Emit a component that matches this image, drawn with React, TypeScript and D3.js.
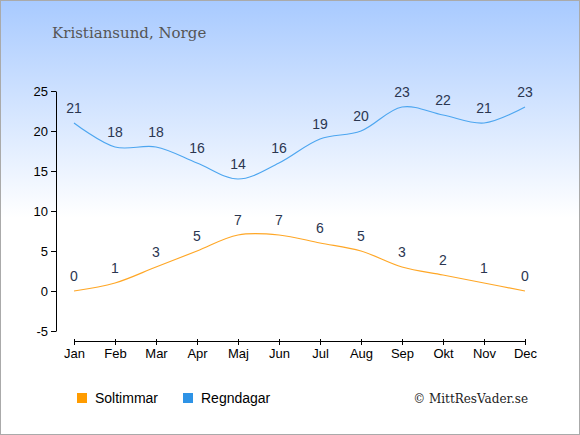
import React, { useRef, useEffect } from 'react';
import * as d3 from 'd3';

const months = ['Jan', 'Feb', 'Mar', 'Apr', 'Maj', 'Jun', 'Jul', 'Aug', 'Sep', 'Okt', 'Nov', 'Dec'];
const soltimmar = [0, 1, 3, 5, 7, 7, 6, 5, 3, 2, 1, 0];
const regndagar = [21, 18, 18, 16, 14, 16, 19, 20, 23, 22, 21, 23];
const yTicks = [-5, 0, 5, 10, 15, 20, 25];

const W = 580;
const H = 435;

const App: React.FC = () => {
  const svgRef = useRef<SVGSVGElement | null>(null);

  useEffect(() => {
    if (!svgRef.current) return;
    const svg = d3.select(svgRef.current);
    svg.selectAll('*').remove();

    // background gradient
    const grad = svg
      .append('defs')
      .append('linearGradient')
      .attr('id', 'bg')
      .attr('x1', 0)
      .attr('y1', 0)
      .attr('x2', 0)
      .attr('y2', 1);
    grad.append('stop').attr('offset', '0%').attr('stop-color', '#a8caff');
    grad.append('stop').attr('offset', '50%').attr('stop-color', '#ffffff');
    grad.append('stop').attr('offset', '100%').attr('stop-color', '#ffffff');

    svg
      .append('rect')
      .attr('x', 0.5)
      .attr('y', 0.5)
      .attr('width', W - 1)
      .attr('height', H - 1)
      .attr('fill', 'url(#bg)')
      .attr('stroke', '#aaaaaa');

    svg
      .append('text')
      .attr('x', 52)
      .attr('y', 38)
      .attr('font-family', 'DejaVu Serif, Georgia, serif')
      .attr('font-size', 15)
      .attr('fill', '#555555')
      .text('Kristiansund, Norge');

    const x = d3.scalePoint<string>().domain(months).range([74, 525]);
    const y = d3.scaleLinear().domain([-5, 25]).range([331, 91]);

    const font = 'Liberation Sans, Arial, sans-serif';

    // Y axis
    const yAxis = svg
      .append('g')
      .attr('transform', 'translate(56,0)')
      .call(
        d3
          .axisLeft(y)
          .tickValues(yTicks)
          .tickFormat(d => String(d))
          .tickSize(5)
          .tickSizeOuter(0)
      );
    yAxis.select('.domain').attr('stroke', '#000');
    yAxis.selectAll('text').attr('font-family', font).attr('font-size', 13).attr('fill', '#000');

    // X axis
    const xAxis = svg
      .append('g')
      .attr('transform', 'translate(0,341)')
      .call(d3.axisBottom(x).tickSize(4).tickSizeOuter(0).tickPadding(4));
    xAxis.select('.domain').attr('stroke', '#000');
    xAxis.selectAll('line').attr('y1', -2);
    xAxis.selectAll('text').attr('font-family', font).attr('font-size', 13).attr('fill', '#000');

    const series = [
      { values: soltimmar, color: '#ffa726' },
      { values: regndagar, color: '#4da6f0' },
    ];

    const line = d3
      .line<number>()
      .x((_, i) => x(months[i])!)
      .y(d => y(d))
      .curve(d3.curveCatmullRom.alpha(0.5));

    series.forEach(s => {
      svg
        .append('path')
        .datum(s.values)
        .attr('d', line)
        .attr('fill', 'none')
        .attr('stroke', s.color)
        .attr('stroke-width', 1.2);

      svg
        .append('g')
        .selectAll('text')
        .data(s.values)
        .enter()
        .append('text')
        .attr('x', (_, i) => x(months[i])!)
        .attr('y', d => y(d) - 10)
        .attr('text-anchor', 'middle')
        .attr('font-family', font)
        .attr('font-size', 14)
        .attr('fill', '#2b3650')
        .text(d => d);
    });

    // legend
    const legend = [
      { label: 'Soltimmar', color: '#ff9c00', x: 77 },
      { label: 'Regndagar', color: '#2e93e6', x: 183 },
    ];
    legend.forEach(l => {
      svg
        .append('rect')
        .attr('x', l.x)
        .attr('y', 393)
        .attr('width', 10)
        .attr('height', 10)
        .attr('fill', l.color);
      svg
        .append('text')
        .attr('x', l.x + 18)
        .attr('y', 403)
        .attr('font-family', font)
        .attr('font-size', 14)
        .attr('fill', '#000')
        .text(l.label);
    });

    svg
      .append('text')
      .attr('x', 528)
      .attr('y', 403)
      .attr('text-anchor', 'end')
      .attr('font-family', 'DejaVu Serif, Georgia, serif')
      .attr('font-size', 12)
      .attr('fill', '#222')
      .text('© MittResVader.se');
  }, []);

  return (
    <div style={{ position: 'absolute', left: 0, top: 0 }}>
      <svg ref={svgRef} width={W} height={H} style={{ display: 'block' }}></svg>
    </div>
  );
};

export default App;
